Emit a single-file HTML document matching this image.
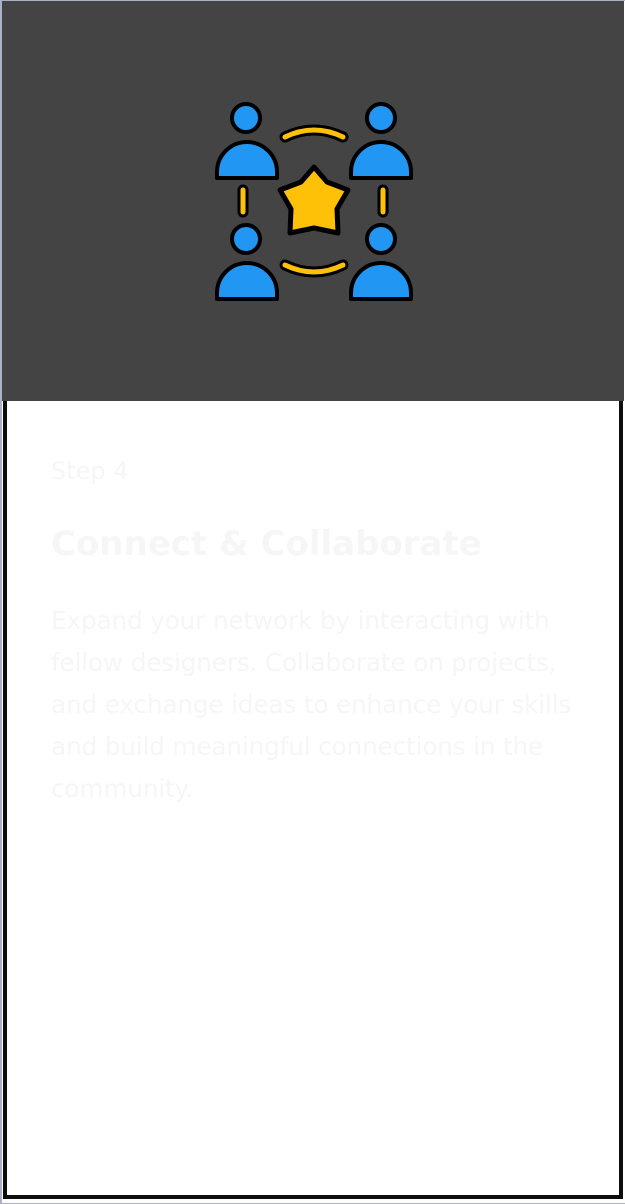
<!DOCTYPE html>
<html><head><style>
html,body{margin:0;padding:0;}
body{width:625px;height:1204px;position:relative;background:#fff;overflow:hidden;font-family:"DejaVu Sans","Liberation Sans",sans-serif;}
.frame{position:absolute;left:0;top:0;width:623px;height:1202px;border:1px solid #a9b0c8;border-left-width:2px;}
.top{position:absolute;left:2px;top:1px;width:622px;height:400px;background:#444;}
.card{position:absolute;left:3px;top:401px;width:612px;height:794px;border:4px solid #0d0d0d;border-top:none;background:#fff;}
.t{position:absolute;left:51px;color:#f6f6f6;white-space:nowrap;}
</style></head><body>
<div class="frame"></div>
<div class="top">
<svg width="622" height="400" style="position:absolute;left:-2px;top:-1px">
<g stroke="#000" stroke-width="4" stroke-linejoin="round" stroke-linecap="round">
<circle cx="246" cy="118" r="14" fill="#2196f3"/>
<path d="M217 178 L217 172 A30 30 0 0 1 277 172 L277 178 Z" fill="#2196f3"/>
<circle cx="381" cy="118" r="14" fill="#2196f3"/>
<path d="M351 178 L351 172 A30 30 0 0 1 411 172 L411 178 Z" fill="#2196f3"/>
<circle cx="246" cy="239" r="14" fill="#2196f3"/>
<path d="M217 299 L217 293 A30 30 0 0 1 277 293 L277 299 Z" fill="#2196f3"/>
<circle cx="381" cy="239" r="14" fill="#2196f3"/>
<path d="M351 299 L351 293 A30 30 0 0 1 411 293 L411 299 Z" fill="#2196f3"/>
</g>
<g fill="none" stroke-linecap="round">
<path d="M285 137 Q314 123 343 137" stroke="#000" stroke-width="11"/>
<path d="M285 137 Q314 123 343 137" stroke="#ffc107" stroke-width="5"/>
<path d="M285 265 Q314 279 343 265" stroke="#000" stroke-width="11"/>
<path d="M285 265 Q314 279 343 265" stroke="#ffc107" stroke-width="5"/>
<path d="M243 190 L243 212" stroke="#000" stroke-width="11"/>
<path d="M243 190 L243 212" stroke="#ffc107" stroke-width="5"/>
<path d="M383 190 L383 212" stroke="#000" stroke-width="11"/>
<path d="M383 190 L383 212" stroke="#ffc107" stroke-width="5"/>
</g>
<path d="M314 167 L327 182 L348 190 L337 209 L338 233 L314 228 L290 233 L291 209 L280 190 L301 182 Z" fill="#ffc107" stroke="#000" stroke-width="5" stroke-linejoin="round"/>
</svg>
</div>
<div class="card"></div>
<div class="t" style="top:457px;font-size:24px;">Step 4</div>
<div class="t" style="top:524px;font-size:34px;font-weight:bold;">Connect &amp; Collaborate</div>
<div class="t" style="top:600px;font-size:24.8px;line-height:42px;letter-spacing:-0.2px;">Expand your network by interacting with<br>fellow designers. Collaborate on projects,<br>and exchange ideas to enhance your skills<br>and build meaningful connections in the<br>community.</div>
</body></html>
